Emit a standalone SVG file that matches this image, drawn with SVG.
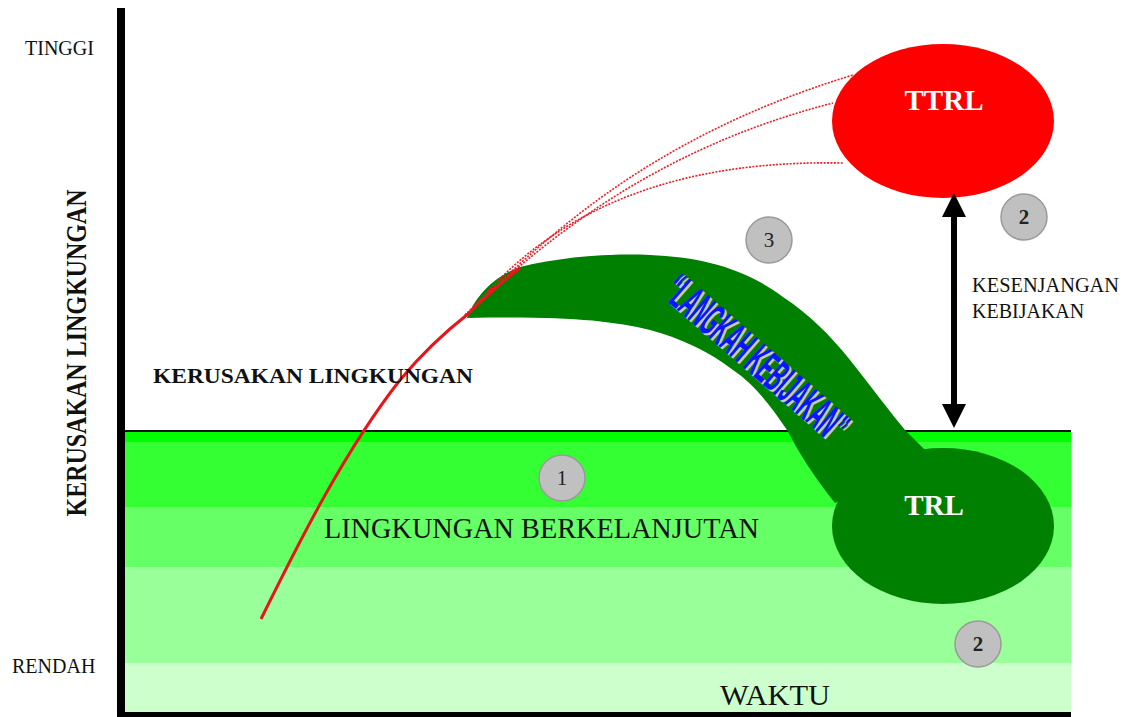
<svg xmlns="http://www.w3.org/2000/svg" width="1123" height="717" viewBox="0 0 1123 717">
<style>
.serif{font-family:"Liberation Serif","Times New Roman",serif;fill:#111}
.lbl{font-size:20px}
.num{font-family:"Liberation Serif","Times New Roman",serif;font-size:21px;fill:#222;text-anchor:middle}
.badge{fill:#c0c0c0;stroke:#9a9a9a;stroke-width:1.5}
.dot{fill:none;stroke:#ee1c25;stroke-width:1.6;stroke-dasharray:2 1.4}
.white{font-family:"Liberation Serif","Times New Roman",serif;font-weight:bold;fill:#fff;text-anchor:middle}
</style>
<defs>
<marker id="ah" markerUnits="userSpaceOnUse" viewBox="0 0 24 24" markerWidth="24" markerHeight="24" refX="8" refY="12" orient="auto-start-reverse">
<path d="M0,0 L24,12 L0,24 Z" fill="#000"/>
</marker>
</defs>
<rect width="1123" height="717" fill="#fff"/>

<g id="bands">
<rect x="125" y="431" width="946" height="11" fill="#00ff00"/>
<rect x="125" y="442" width="946" height="65" fill="#33ff33"/>
<rect x="125" y="507" width="946" height="60" fill="#66ff66"/>
<rect x="125" y="567" width="946" height="96" fill="#99ff99"/>
<rect x="125" y="663" width="946" height="50" fill="#ccffcc"/>
<line x1="125" y1="431" x2="1071" y2="431" stroke="#111" stroke-width="2"/>
</g>

<g id="axes">
<rect x="117" y="8" width="8" height="709" fill="#000"/>
<rect x="117" y="712" width="954" height="5" fill="#000"/>
</g>

<g id="axis-labels">
<text class="serif lbl" x="25" y="55">TINGGI</text>
<text class="serif lbl" x="12" y="673">RENDAH</text>
<text class="serif" x="0" y="0" font-size="29" font-weight="bold" text-anchor="middle" textLength="327" lengthAdjust="spacingAndGlyphs" transform="translate(86,353) rotate(-90)">KERUSAKAN LINGKUNGAN</text>
<text class="serif" x="720" y="705" font-size="30" fill="#333" textLength="110" lengthAdjust="spacingAndGlyphs">WAKTU</text>
</g>

<g id="langkah-kebijakan">
<path d="M467,318 C474,300 490,278 520,267 C560,257 610,253 650,255 C700,257 745,268 783,297 C810,315 830,335 850,360 C870,385 890,412 905,430 L930,455 L835,503 C815,478 800,455 787,430 C770,405 755,385 733,370 C710,352 680,338 650,330 C610,320 560,316 467,318 Z" fill="#008000"/>
<text x="0" y="0" font-family="'Liberation Sans',Arial,sans-serif" font-weight="bold" font-size="46" fill="#c8c8c8" text-anchor="middle" textLength="227" lengthAdjust="spacingAndGlyphs" transform="translate(748,372) rotate(41)">“LANGKAH KEBIJAKAN”</text>
<text x="0" y="0" font-family="'Liberation Sans',Arial,sans-serif" font-weight="bold" font-size="46" fill="#0a14ff" text-anchor="middle" textLength="227" lengthAdjust="spacingAndGlyphs" transform="translate(746,370) rotate(41)">“LANGKAH KEBIJAKAN”</text>
</g>

<g id="TRL">
<ellipse cx="943" cy="526" rx="111" ry="78" fill="#008000"/>
<text class="white" x="934" y="515" font-size="29">TRL</text>
</g>

<g id="TTRL">
<ellipse cx="943" cy="121" rx="111" ry="77" fill="#ff0000"/>
<text class="white" x="944" y="110" font-size="29">TTRL</text>
</g>

<g id="connectors">
<path d="M261,619 C300,540 345,450 400,380 C425,350 445,332 468,314 C485,298 500,283 520,268" fill="none" stroke="#e8141b" stroke-width="3"/>
<path class="dot" d="M465,315 C540,245 640,140 853,75"/>
<path class="dot" d="M465,315 C540,245 650,150 833,103"/>
<path class="dot" d="M470,312 C560,200 690,160 843,163"/>
<line x1="954" y1="209" x2="954" y2="412" stroke="#000" stroke-width="6" marker-start="url(#ah)" marker-end="url(#ah)"/>
</g>

<g id="labels">
<text class="serif" x="153" y="383" font-size="22" font-weight="bold" textLength="320" lengthAdjust="spacingAndGlyphs">KERUSAKAN LINGKUNGAN</text>
<text class="serif" x="324" y="538" font-size="29" textLength="435" lengthAdjust="spacingAndGlyphs">LINGKUNGAN BERKELANJUTAN</text>
<text class="serif lbl" x="972" y="292" textLength="147" lengthAdjust="spacingAndGlyphs">KESENJANGAN</text>
<text class="serif lbl" x="972" y="318">KEBIJAKAN</text>
</g>

<g id="badge-1"><circle class="badge" cx="562" cy="478" r="23"/><text class="num" x="562" y="485">1</text></g>
<g id="badge-3"><circle class="badge" cx="769" cy="240" r="23"/><text class="num" x="769" y="247">3</text></g>
<g id="badge-2-top"><circle class="badge" cx="1024" cy="217" r="23"/><text class="num" x="1024" y="224" font-weight="bold">2</text></g>
<g id="badge-2-bottom"><circle class="badge" cx="978" cy="644" r="23"/><text class="num" x="978" y="651" font-weight="bold">2</text></g>
</svg>
